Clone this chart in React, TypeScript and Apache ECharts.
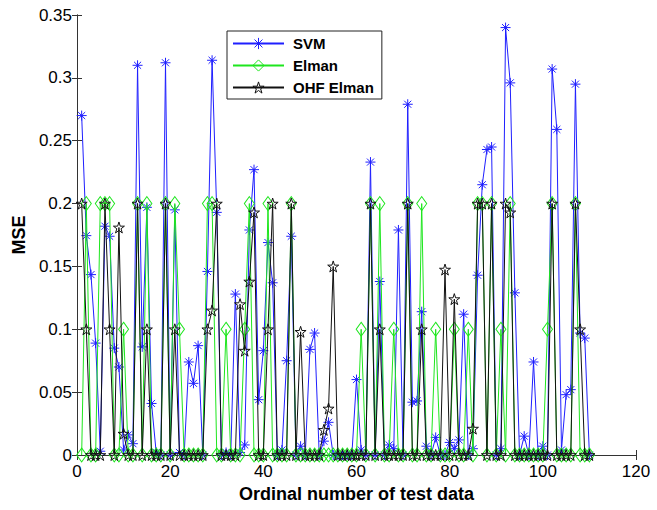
import React, { useEffect, useRef } from 'react';
import * as echarts from 'echarts';

// Ordinal numbers of the test samples (1..110)
const testIndex: number[] = Array.from({ length: 110 }, (_, i) => i + 1);

const svm: number[] = [
  0.270, 0.1745, 0.1435, 0.089, 0.003, 0.182, 0.174, 0.085, 0.070, 0.004,
  0.016, 0.009, 0.310, 0.086, 0.197, 0.041, 0.002, 0, 0.312, 0,
  0.195, 0.002, 0, 0.074, 0.057, 0.087, 0, 0.146, 0.314, 0.193,
  0, 0.002, 0, 0.128, 0.002, 0.008, 0.179, 0.227, 0.044, 0.083,
  0.169, 0.137, 0, 0.004, 0.075, 0.174, 0, 0.007, 0, 0.084,
  0.097, 0, 0.011, 0.026, 0, 0, 0, 0, 0, 0.060,
  0.004, 0, 0.233, 0, 0.138, 0, 0.008, 0.005, 0.179, 0,
  0.279, 0.042, 0.043, 0.114, 0.007, 0, 0.014, 0, 0, 0.010,
  0.005, 0.012, 0.112, 0, 0.005, 0.143, 0.215, 0.243, 0.245, 0,
  0.005, 0.340, 0.296, 0.129, 0, 0.015, 0, 0.074, 0, 0.007,
  0, 0.307, 0.259, 0.004, 0.048, 0.052, 0.295, 0.097, 0.093, 0,
];

const elman: number[] = [
  0, 0.2, 0, 0, 0.2, 0.2, 0.2, 0, 0, 0.1,
  0, 0, 0.2, 0, 0.2, 0, 0, 0, 0.2, 0,
  0.2, 0.1, 0, 0, 0, 0, 0, 0.2, 0.2, 0,
  0, 0.1, 0, 0, 0, 0.1, 0.2, 0, 0, 0,
  0.2, 0, 0, 0, 0, 0.2, 0, 0, 0, 0,
  0, 0, 0, 0, 0, 0, 0, 0, 0, 0,
  0.1, 0, 0.2, 0, 0.2, 0, 0, 0.1, 0, 0,
  0.2, 0, 0, 0.2, 0, 0, 0.1, 0, 0, 0,
  0.1, 0, 0, 0.1, 0, 0.2, 0.2, 0, 0.2, 0,
  0.1, 0, 0.2, 0, 0, 0, 0, 0, 0, 0,
  0.1, 0.2, 0, 0, 0, 0, 0.2, 0, 0, 0,
];

const ohfElman: number[] = [
  0.2, 0.1, 0, 0, 0, 0.2, 0.1, 0, 0.181, 0.017,
  0, 0, 0.2, 0, 0.1, 0, 0, 0, 0.2, 0,
  0.1, 0, 0, 0, 0, 0, 0, 0.1, 0.115, 0.2,
  0, 0, 0, 0, 0.12, 0.083, 0.138, 0.193, 0, 0,
  0.1, 0.2, 0, 0, 0, 0.2, 0, 0.098, 0, 0,
  0, 0, 0.02, 0.037, 0.150, 0, 0, 0, 0, 0,
  0, 0, 0.2, 0, 0.1, 0, 0, 0, 0, 0,
  0.2, 0, 0, 0.1, 0, 0, 0, 0, 0.1475, 0,
  0.124, 0, 0, 0, 0.021, 0.2, 0.2, 0, 0.2, 0,
  0, 0.2, 0.193, 0, 0, 0, 0, 0, 0, 0,
  0, 0.2, 0, 0, 0, 0, 0.2, 0.1, 0, 0,
];

const seriesNames = ['SVM', 'Elman', 'OHF Elman'];
const seriesColors = ['#1f1fff', '#1ee61e', '#111111'];
const xTicks = [0, 20, 40, 60, 80, 100, 120];

const FONT = '"Liberation Sans", Arial, sans-serif';
const ASTERISK =
  'path://M0,-1L0,1M-1,0L1,0M-0.7071,-0.7071L0.7071,0.7071M-0.7071,0.7071L0.7071,-0.7071';
const DIAMOND = 'path://M0,-1L0.7,0L0,1L-0.7,0Z';
const PENTAGRAM =
  'path://M0,-1L0.2245,-0.309L0.951,-0.309L0.363,0.118L0.588,0.809L0,0.382L-0.588,0.809L-0.363,0.118L-0.951,-0.309L-0.2245,-0.309Z';

const pairs = (vals: number[]) => testIndex.map((x, i) => [x, vals[i]]);

export default function App() {
  const ref = useRef<HTMLDivElement>(null);
  useEffect(() => {
    const chart = echarts.init(ref.current!, null, { renderer: 'svg' });
    const axisLine = { show: true, lineStyle: { color: '#333', width: 1 } };
    const tick = { show: true, inside: true, length: 5, lineStyle: { color: '#333' } };
    chart.setOption({
      animation: false,
      backgroundColor: '#fff',
      grid: { left: 77, right: 21, top: 15, bottom: 55, containLabel: false },
      legend: {
        orient: 'vertical',
        left: 227,
        top: 31,
        padding: [5, 8, 4, 5],
        itemWidth: 51,
        itemHeight: 14,
        itemGap: 7,
        borderColor: '#222',
        borderWidth: 1,
        backgroundColor: '#fff',
        textStyle: {
          fontFamily: FONT,
          fontWeight: 'bold',
          fontSize: 15,
          lineHeight: 14,
          color: '#000',
          padding: [0, 0, 0, 4],
        },
        data: seriesNames.map((name, i) => ({
          name,
          itemStyle: { color: 'transparent', borderColor: seriesColors[i], borderWidth: 1 },
        })),
      },
      xAxis: [
        {
          type: 'value',
          min: xTicks[0],
          max: xTicks[xTicks.length - 1],
          interval: 20,
          position: 'bottom',
          axisLine,
          axisTick: tick,
          splitLine: { show: false },
          axisLabel: { fontFamily: FONT, fontSize: 17, color: '#000', margin: 8 },
          name: 'Ordinal number of test data',
          nameLocation: 'middle',
          nameGap: 28,
          nameTextStyle: { fontFamily: FONT, fontSize: 18, fontWeight: 'bold', color: '#000' },
        },
        {
          type: 'value',
          min: xTicks[0],
          max: xTicks[xTicks.length - 1],
          interval: 20,
          position: 'top',
          axisLine,
          axisTick: tick,
          splitLine: { show: false },
          axisLabel: { show: false },
        },
      ],
      yAxis: [
        {
          type: 'value',
          min: 0,
          max: 0.35,
          interval: 0.05,
          position: 'left',
          axisLine,
          axisTick: tick,
          splitLine: { show: false },
          axisLabel: { fontFamily: FONT, fontSize: 17, color: '#000', margin: 5 },
          name: 'MSE',
          nameLocation: 'middle',
          nameGap: 45,
          nameTextStyle: { fontFamily: FONT, fontSize: 18, fontWeight: 'bold', color: '#000' },
        },
        {
          type: 'value',
          min: 0,
          max: 0.35,
          interval: 0.05,
          position: 'right',
          axisLine,
          axisTick: tick,
          splitLine: { show: false },
          axisLabel: { show: false },
        },
      ],
      series: [
        {
          name: seriesNames[0],
          type: 'line',
          data: pairs(svm),
          symbol: ASTERISK,
          symbolSize: 10,
          showAllSymbol: true,
          lineStyle: { color: seriesColors[0], width: 1 },
          itemStyle: { color: 'transparent', borderColor: seriesColors[0], borderWidth: 1 },
          z: 2,
        },
        {
          name: seriesNames[1],
          type: 'line',
          data: pairs(elman),
          symbol: DIAMOND,
          symbolSize: [10, 14],
          showAllSymbol: true,
          lineStyle: { color: seriesColors[1], width: 1 },
          itemStyle: { color: 'transparent', borderColor: seriesColors[1], borderWidth: 1 },
          z: 3,
        },
        {
          name: seriesNames[2],
          type: 'line',
          data: pairs(ohfElman),
          symbol: PENTAGRAM,
          symbolSize: 11,
          showAllSymbol: true,
          lineStyle: { color: seriesColors[2], width: 1 },
          itemStyle: { color: 'transparent', borderColor: seriesColors[2], borderWidth: 1 },
          z: 4,
        },
      ],
    });
    return () => chart.dispose();
  }, []);
  return (
    <div
      ref={ref}
      style={{ position: 'absolute', left: 0, top: 0, width: 657, height: 510 }}
    />
  );
}
